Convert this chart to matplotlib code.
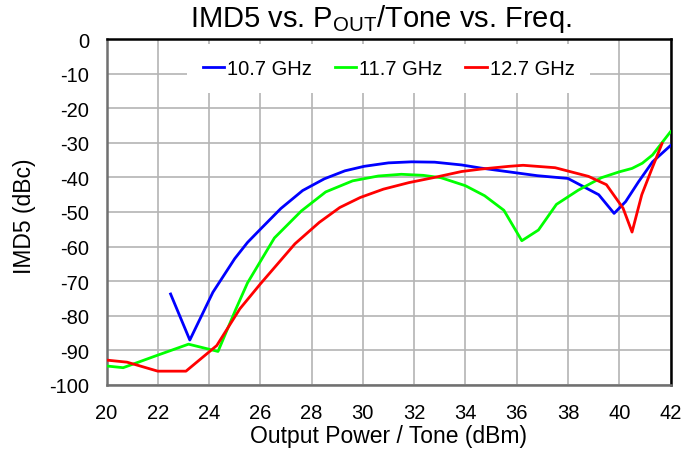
import matplotlib
matplotlib.use("Agg")
import matplotlib.pyplot as plt

plt.rcParams['font.family'] = ['Liberation Sans', 'DejaVu Sans']
plt.rcParams['axes.unicode_minus'] = False

blue_x = [22.5, 23.25, 24.15, 25.0, 25.5, 26.0, 26.8, 27.65, 28.5, 29.3, 30.05, 31.0, 31.9, 32.8,
          33.85, 34.6, 35.7, 36.8, 38.0, 39.2, 39.8, 40.25, 40.75, 41.3, 42.0]
blue_y = [-73.7, -87.0, -73.2, -63.5, -58.8, -55.0, -49.0, -43.8, -40.4, -38.1, -36.8, -35.8, -35.5, -35.6,
          -36.4, -37.3, -38.4, -39.5, -40.3, -45.0, -50.4, -47.0, -41.3, -35.5, -30.8]

green_x = [20.0, 20.65, 21.95, 23.2, 24.35, 25.05, 25.5, 26.55, 27.6, 28.55, 29.6, 30.6, 31.5, 32.35,
           33.05, 34.0, 34.75, 35.5, 36.2, 36.85, 37.55, 38.4, 39.3, 40.0, 40.5, 40.9, 41.3, 42.0]
green_y = [-94.5, -95.0, -91.5, -88.2, -90.3, -78.0, -70.5, -57.5, -49.7, -44.2, -41.0, -39.6, -39.1, -39.4,
           -40.1, -42.4, -45.3, -49.5, -58.3, -55.2, -47.8, -43.7, -40.1, -38.4, -37.4, -35.9, -33.5, -26.8]

red_x = [20.0, 20.8, 22.0, 23.1, 24.3, 25.2, 26.0, 27.35, 28.3, 29.1, 29.9, 30.8, 31.8, 32.8, 33.85,
         34.6, 35.7, 36.25, 37.5, 38.8, 39.5, 40.15, 40.5, 40.88, 41.28, 41.67]
red_y = [-92.8, -93.4, -96.0, -96.0, -88.6, -78.0, -70.8, -59.2, -53.0, -48.7, -45.8, -43.4, -41.5, -40.0, -38.3,
         -37.6, -36.8, -36.5, -37.2, -39.7, -42.1, -48.9, -55.8, -45.0, -37.4, -30.2]

labels = ["10.7 GHz", "11.7 GHz", "12.7 GHz"]
colors = ["#0000ff", "#00ff00", "#ff0000"]
x_ticks = list(range(20, 43, 2))
y_ticks = list(range(-100, 1, 10))

fig = plt.figure(figsize=(6.99, 4.52), dpi=100)
ax = fig.add_axes([106.5 / 699, 1 - 386 / 452, (670.5 - 106.5) / 699, (386 - 40) / 452])

for xs, ys, lab, c in zip([blue_x, green_x, red_x], [blue_y, green_y, red_y], labels, colors):
    ax.plot(xs, ys, color=c, lw=2.0, label=lab, zorder=3)

ax.set_xlim(20, 42)
ax.set_ylim(-100, 0)
ax.set_xticks(x_ticks)
ax.set_yticks(y_ticks)
ax.tick_params(length=0, labelsize=14.5)
ax.tick_params(axis="x", pad=13)
ax.tick_params(axis="y", pad=12.5)
ax.grid(True, color="#b4b4b4", lw=1.2, zorder=0)
for s in ["left", "bottom"]:
    ax.spines[s].set_color("#707070")
    ax.spines[s].set_linewidth(1.8)
for s in ["top", "right"]:
    ax.spines[s].set_color("#000000")
    ax.spines[s].set_linewidth(1.8)

ax.set_xlabel("Output Power / Tone (dBm)", fontsize=16.5, va="center")
ax.xaxis.set_label_coords(0.5, -0.145)
ax.set_ylabel("IMD5 (dBc)", fontsize=16.5, va="center")
ax.yaxis.set_label_coords((24 - 106.5) / 564, 0.49)
fig.text(381 / 699, 1 - 27 / 452, "IMD5 vs. P$_{\\mathregular{OUT}}$/Tone vs. Freq.", fontsize=21,
         ha="center", va="baseline")

leg = ax.legend(loc="upper center", bbox_to_anchor=(0.5, 1.0), ncol=3, frameon=True, fontsize=14.5,
                handlelength=1.05, handletextpad=0.15, columnspacing=1.15, borderaxespad=0.25,
                borderpad=0.75, fancybox=False, edgecolor="none", facecolor="white", framealpha=1)

fig.savefig("out.png", dpi=100)
